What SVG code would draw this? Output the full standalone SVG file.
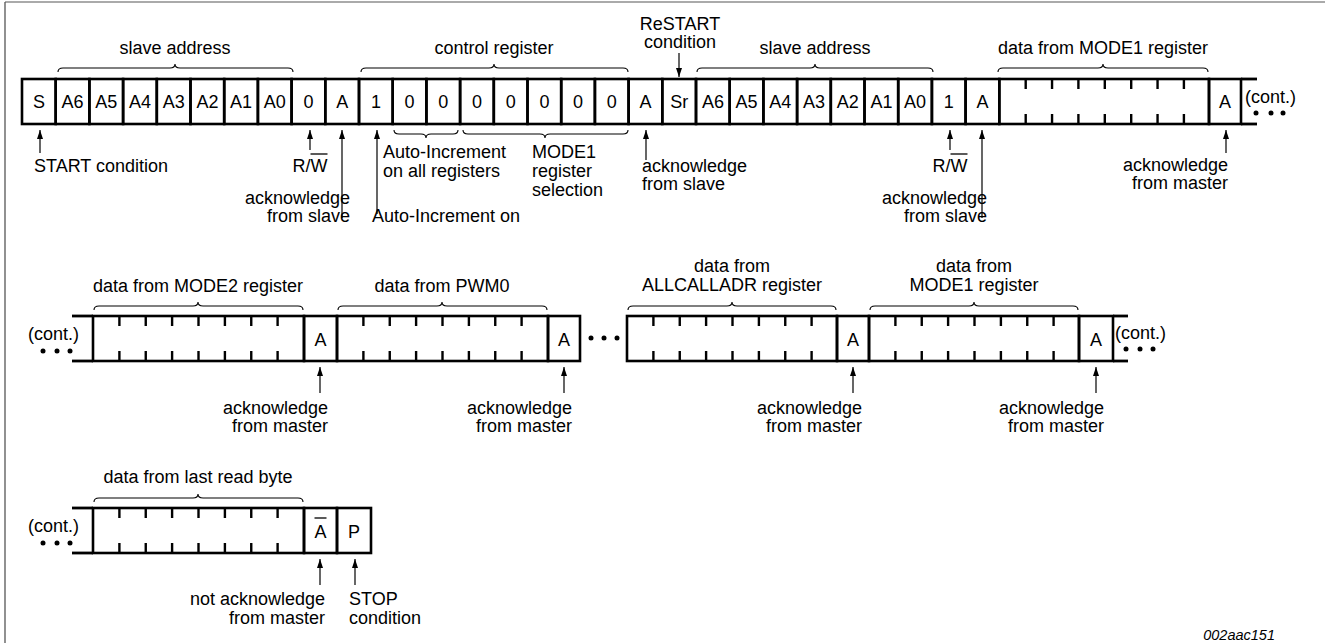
<svg xmlns="http://www.w3.org/2000/svg" width="1325" height="643" viewBox="0 0 1325 643">
<style>
.t{font-family:"Liberation Sans",Arial,Helvetica,sans-serif;font-size:18px;fill:#000}
.m{text-anchor:middle}
.e{text-anchor:end}
.cell{fill:none;stroke:#000;stroke-width:2.6}
.ln{stroke:#000;stroke-width:2.8;fill:none}
.tk{stroke:#000;stroke-width:2.4}
.br{fill:none;stroke:#000;stroke-width:1.1}
.ar{stroke:#000;stroke-width:1.2;fill:none;marker-end:url(#ah)}
.ov{stroke:#000;stroke-width:1.3}
.dot{fill:#000}
</style>
<defs>
<marker id="ah" viewBox="0 0 9 6" refX="9" refY="3" markerWidth="9" markerHeight="6" markerUnits="userSpaceOnUse" orient="auto"><path d="M0,0 L9,3 L0,6 z" fill="#000"/></marker>
<g id="ticks8">
<line class="tk" x1="26.4" y1="0" x2="26.4" y2="10"/><line class="tk" x1="52.75" y1="0" x2="52.75" y2="10"/><line class="tk" x1="79.1" y1="0" x2="79.1" y2="10"/><line class="tk" x1="105.5" y1="0" x2="105.5" y2="10"/><line class="tk" x1="131.9" y1="0" x2="131.9" y2="10"/><line class="tk" x1="158.25" y1="0" x2="158.25" y2="10"/><line class="tk" x1="184.6" y1="0" x2="184.6" y2="10"/>
<line class="tk" x1="26.4" y1="35" x2="26.4" y2="45"/><line class="tk" x1="52.75" y1="35" x2="52.75" y2="45"/><line class="tk" x1="79.1" y1="35" x2="79.1" y2="45"/><line class="tk" x1="105.5" y1="35" x2="105.5" y2="45"/><line class="tk" x1="131.9" y1="35" x2="131.9" y2="45"/><line class="tk" x1="158.25" y1="35" x2="158.25" y2="45"/><line class="tk" x1="184.6" y1="35" x2="184.6" y2="45"/>
</g>
</defs>
<rect x="0" y="0" width="1325" height="643" fill="#fff"/>
<line x1="5" y1="2" x2="1325" y2="2" stroke="#aaa" stroke-width="2"/>
<line x1="5" y1="2" x2="5" y2="643" stroke="#555" stroke-width="1.3"/>

<!-- ROW 1 -->
<g id="start">
<rect class="cell" x="22" y="79" width="33.7" height="45"/><text class="t m" x="38.9" y="108">S</text>
</g>
<g id="slave-address-1">
<rect class="cell" x="55.7" y="79" width="33.7" height="45"/><text class="t m" x="72.6" y="108">A6</text>
<rect class="cell" x="89.4" y="79" width="33.7" height="45"/><text class="t m" x="106.3" y="108">A5</text>
<rect class="cell" x="123.1" y="79" width="33.7" height="45"/><text class="t m" x="140" y="108">A4</text>
<rect class="cell" x="156.8" y="79" width="33.7" height="45"/><text class="t m" x="173.7" y="108">A3</text>
<rect class="cell" x="190.5" y="79" width="33.7" height="45"/><text class="t m" x="207.4" y="108">A2</text>
<rect class="cell" x="224.2" y="79" width="33.7" height="45"/><text class="t m" x="241.1" y="108">A1</text>
<rect class="cell" x="257.9" y="79" width="33.7" height="45"/><text class="t m" x="274.8" y="108">A0</text>
</g>
<g id="rw-1"><rect class="cell" x="291.6" y="79" width="33.7" height="45"/><text class="t m" x="308.5" y="108">0</text></g>
<g id="ack-1"><rect class="cell" x="325.3" y="79" width="33.7" height="45"/><text class="t m" x="342.2" y="108">A</text></g>
<g id="control-register">
<rect class="cell" x="359" y="79" width="33.7" height="45"/><text class="t m" x="375.9" y="108">1</text>
<rect class="cell" x="392.7" y="79" width="33.7" height="45"/><text class="t m" x="409.6" y="108">0</text>
<rect class="cell" x="426.4" y="79" width="33.7" height="45"/><text class="t m" x="443.3" y="108">0</text>
<rect class="cell" x="460.1" y="79" width="33.7" height="45"/><text class="t m" x="477" y="108">0</text>
<rect class="cell" x="493.8" y="79" width="33.7" height="45"/><text class="t m" x="510.7" y="108">0</text>
<rect class="cell" x="527.5" y="79" width="33.7" height="45"/><text class="t m" x="544.4" y="108">0</text>
<rect class="cell" x="561.2" y="79" width="33.7" height="45"/><text class="t m" x="578.1" y="108">0</text>
<rect class="cell" x="594.9" y="79" width="33.7" height="45"/><text class="t m" x="611.8" y="108">0</text>
</g>
<g id="ack-2"><rect class="cell" x="628.6" y="79" width="33.7" height="45"/><text class="t m" x="645.5" y="108">A</text></g>
<g id="restart"><rect class="cell" x="662.3" y="79" width="33.7" height="45"/><text class="t m" x="679.2" y="108">Sr</text></g>
<g id="slave-address-2">
<rect class="cell" x="696" y="79" width="33.7" height="45"/><text class="t m" x="712.9" y="108">A6</text>
<rect class="cell" x="729.7" y="79" width="33.7" height="45"/><text class="t m" x="746.6" y="108">A5</text>
<rect class="cell" x="763.4" y="79" width="33.7" height="45"/><text class="t m" x="780.3" y="108">A4</text>
<rect class="cell" x="797.1" y="79" width="33.7" height="45"/><text class="t m" x="814" y="108">A3</text>
<rect class="cell" x="830.8" y="79" width="33.7" height="45"/><text class="t m" x="847.7" y="108">A2</text>
<rect class="cell" x="864.5" y="79" width="33.7" height="45"/><text class="t m" x="881.4" y="108">A1</text>
<rect class="cell" x="898.2" y="79" width="33.7" height="45"/><text class="t m" x="915.1" y="108">A0</text>
</g>
<g id="rw-2"><rect class="cell" x="931.9" y="79" width="33.7" height="45"/><text class="t m" x="948.8" y="108">1</text></g>
<g id="ack-3"><rect class="cell" x="965.6" y="79" width="33.7" height="45"/><text class="t m" x="982.5" y="108">A</text></g>
<g id="data-mode1-a">
<rect class="cell" x="999.3" y="79" width="209.7" height="45"/>
<use href="#ticks8" x="999.3" y="79"/>
</g>
<g id="ack-m1"><rect class="cell" x="1209" y="79" width="32" height="45"/><text class="t m" x="1225" y="108">A</text></g>
<g id="cont-1">
<line class="ln" x1="1241" y1="79" x2="1257" y2="79"/><line class="ln" x1="1241" y1="124" x2="1257" y2="124"/>
<text class="t" x="1245" y="103">(cont.)</text>
<circle class="dot" cx="1256" cy="113" r="2.5"/><circle class="dot" cx="1271" cy="113" r="2.5"/><circle class="dot" cx="1283" cy="113" r="2.5"/>
</g>

<!-- ROW 2 -->
<g id="cont-2">
<line class="ln" x1="72" y1="316" x2="93" y2="316"/><line class="ln" x1="72" y1="361" x2="93" y2="361"/>
<text class="t" x="28" y="340">(cont.)</text>
<circle class="dot" cx="43" cy="351" r="2.5"/><circle class="dot" cx="57" cy="351" r="2.5"/><circle class="dot" cx="70" cy="351" r="2.5"/>
</g>
<g id="data-mode2"><rect class="cell" x="93" y="316" width="211" height="45"/><use href="#ticks8" x="93" y="316"/></g>
<g id="ack-m2"><rect class="cell" x="304" y="316" width="33" height="45"/><text class="t m" x="320.5" y="346">A</text></g>
<g id="data-pwm0"><rect class="cell" x="337" y="316" width="211" height="45"/><use href="#ticks8" x="337" y="316"/></g>
<g id="ack-m3"><rect class="cell" x="548" y="316" width="32" height="45"/><text class="t m" x="564" y="346">A</text></g>
<g id="ellipsis">
<circle class="dot" cx="591" cy="338" r="2.5"/><circle class="dot" cx="604" cy="338" r="2.5"/><circle class="dot" cx="617" cy="338" r="2.5"/>
</g>
<g id="data-allcalladr"><rect class="cell" x="627" y="316" width="210" height="45"/><use href="#ticks8" x="627" y="316"/></g>
<g id="ack-m4"><rect class="cell" x="837" y="316" width="32" height="45"/><text class="t m" x="853" y="346">A</text></g>
<g id="data-mode1-b"><rect class="cell" x="869" y="316" width="210" height="45"/><use href="#ticks8" x="869" y="316"/></g>
<g id="ack-m5"><rect class="cell" x="1079" y="316" width="34" height="45"/><text class="t m" x="1096" y="346">A</text></g>
<g id="cont-3">
<line class="ln" x1="1113" y1="316" x2="1128" y2="316"/><line class="ln" x1="1113" y1="361" x2="1128" y2="361"/>
<text class="t" x="1115" y="339">(cont.)</text>
<circle class="dot" cx="1126" cy="349" r="2.5"/><circle class="dot" cx="1140" cy="349" r="2.5"/><circle class="dot" cx="1153" cy="349" r="2.5"/>
</g>

<!-- ROW 3 -->
<g id="cont-4">
<line class="ln" x1="72" y1="508" x2="93" y2="508"/><line class="ln" x1="72" y1="553" x2="93" y2="553"/>
<text class="t" x="28" y="532">(cont.)</text>
<circle class="dot" cx="43" cy="543" r="2.5"/><circle class="dot" cx="57" cy="543" r="2.5"/><circle class="dot" cx="70" cy="543" r="2.5"/>
</g>
<g id="data-last"><rect class="cell" x="93" y="508" width="211" height="45"/><use href="#ticks8" x="93" y="508"/></g>
<g id="nack"><rect class="cell" x="304" y="508" width="33" height="45"/><text class="t m" x="320.5" y="538">A</text><line class="ov" x1="314.5" y1="518" x2="326.5" y2="518"/></g>
<g id="stop"><rect class="cell" x="337" y="508" width="34" height="45"/><text class="t m" x="354" y="538">P</text></g>

<!-- braces -->
<g id="braces">
<path class="br" d="M58 72 Q58 68 63 68 L170 68 Q175 68 175 64 Q175 68 180 68 L288 68 Q293 68 293 72"/>
<path class="br" d="M361 72 Q361 68 366 68 L489 68 Q494 68 494 64 Q494 68 499 68 L623 68 Q628 68 628 72"/>
<path class="br" d="M697 72 Q697 68 702 68 L810 68 Q815 68 815 64 Q815 68 820 68 L928 68 Q933 68 933 72"/>
<path class="br" d="M998 72 Q998 68 1003 68 L1098 68 Q1103 68 1103 64 Q1103 68 1108 68 L1203 68 Q1208 68 1208 72"/>
<path class="br" d="M394 130 Q394 134 399 134 L421 134 Q426 134 426 138 Q426 134 431 134 L453 134 Q458 134 458 130"/>
<path class="br" d="M463 130 Q463 134 468 134 L540 134 Q545 134 545 138 Q545 134 550 134 L623 134 Q628 134 628 130"/>
<path class="br" d="M94 310 Q94 306 99 306 L193 306 Q198 306 198 302 Q198 306 203 306 L298 306 Q303 306 303 310"/>
<path class="br" d="M338 310 Q338 306 343 306 L437 306 Q442 306 442 302 Q442 306 447 306 L542 306 Q547 306 547 310"/>
<path class="br" d="M628 310 Q628 306 633 306 L727 306 Q732 306 732 302 Q732 306 737 306 L831 306 Q836 306 836 310"/>
<path class="br" d="M870 310 Q870 306 875 306 L969 306 Q974 306 974 302 Q974 306 979 306 L1073 306 Q1078 306 1078 310"/>
<path class="br" d="M94 502 Q94 498 99 498 L193 498 Q198 498 198 494 Q198 498 203 498 L298 498 Q303 498 303 502"/>
</g>

<!-- connectors -->
<g id="connectors">
<path class="ar" d="M40 153 V130"/>
<path class="ar" d="M310 150 V130"/>
<path class="ar" d="M342 218 V130"/>
<path class="ar" d="M377 214 V130"/>
<path class="ar" d="M646 160 V130"/>
<path class="ar" d="M679 53 V77"/>
<path class="ar" d="M950 150 V130"/>
<path class="ar" d="M982 218 V130"/>
<path class="ar" d="M1226 153 V130"/>
<path class="ar" d="M320 393 V367"/>
<path class="ar" d="M564 393 V367"/>
<path class="ar" d="M853 393 V367"/>
<path class="ar" d="M1096 393 V367"/>
<path class="ar" d="M320 585 V559"/>
<path class="ar" d="M355 585 V559"/>
</g>

<!-- labels -->
<g id="labels">
<text class="t m" x="175" y="54">slave address</text>
<text class="t m" x="494" y="54">control register</text>
<text class="t m" x="680" y="30">ReSTART</text>
<text class="t m" x="680" y="48">condition</text>
<text class="t m" x="815" y="54">slave address</text>
<text class="t m" x="1103" y="54">data from MODE1 register</text>
<text class="t" x="34" y="172">START condition</text>
<text class="t m" x="310" y="172">R/W</text><line class="ov" x1="310.5" y1="154" x2="327.5" y2="154"/>
<text class="t e" x="350" y="204">acknowledge</text>
<text class="t e" x="350" y="222">from slave</text>
<text class="t" x="383" y="158">Auto-Increment</text>
<text class="t" x="383" y="177">on all registers</text>
<text class="t" x="372" y="222">Auto-Increment on</text>
<text class="t" x="532" y="158">MODE1</text>
<text class="t" x="532" y="177">register</text>
<text class="t" x="532" y="196">selection</text>
<text class="t" x="642" y="172">acknowledge</text>
<text class="t" x="642" y="190">from slave</text>
<text class="t m" x="950" y="172">R/W</text><line class="ov" x1="950.5" y1="154" x2="967.5" y2="154"/>
<text class="t e" x="987" y="204">acknowledge</text>
<text class="t e" x="987" y="222">from slave</text>
<text class="t e" x="1228" y="171">acknowledge</text>
<text class="t e" x="1228" y="189">from master</text>

<text class="t m" x="198" y="292">data from MODE2 register</text>
<text class="t m" x="442" y="292">data from PWM0</text>
<text class="t m" x="732" y="272">data from</text>
<text class="t m" x="732" y="291">ALLCALLADR register</text>
<text class="t m" x="974" y="272">data from</text>
<text class="t m" x="974" y="291">MODE1 register</text>
<text class="t e" x="328" y="414">acknowledge</text>
<text class="t e" x="328" y="432">from master</text>
<text class="t e" x="572" y="414">acknowledge</text>
<text class="t e" x="572" y="432">from master</text>
<text class="t e" x="862" y="414">acknowledge</text>
<text class="t e" x="862" y="432">from master</text>
<text class="t e" x="1104" y="414">acknowledge</text>
<text class="t e" x="1104" y="432">from master</text>

<text class="t m" x="198" y="483">data from last read byte</text>
<text class="t e" x="325" y="605">not acknowledge</text>
<text class="t e" x="325" y="624">from master</text>
<text class="t" x="349" y="605">STOP</text>
<text class="t" x="349" y="624">condition</text>
<text class="t e" x="1275" y="640" style="font-size:14.5px;font-style:italic">002aac151</text>
</g>
</svg>
